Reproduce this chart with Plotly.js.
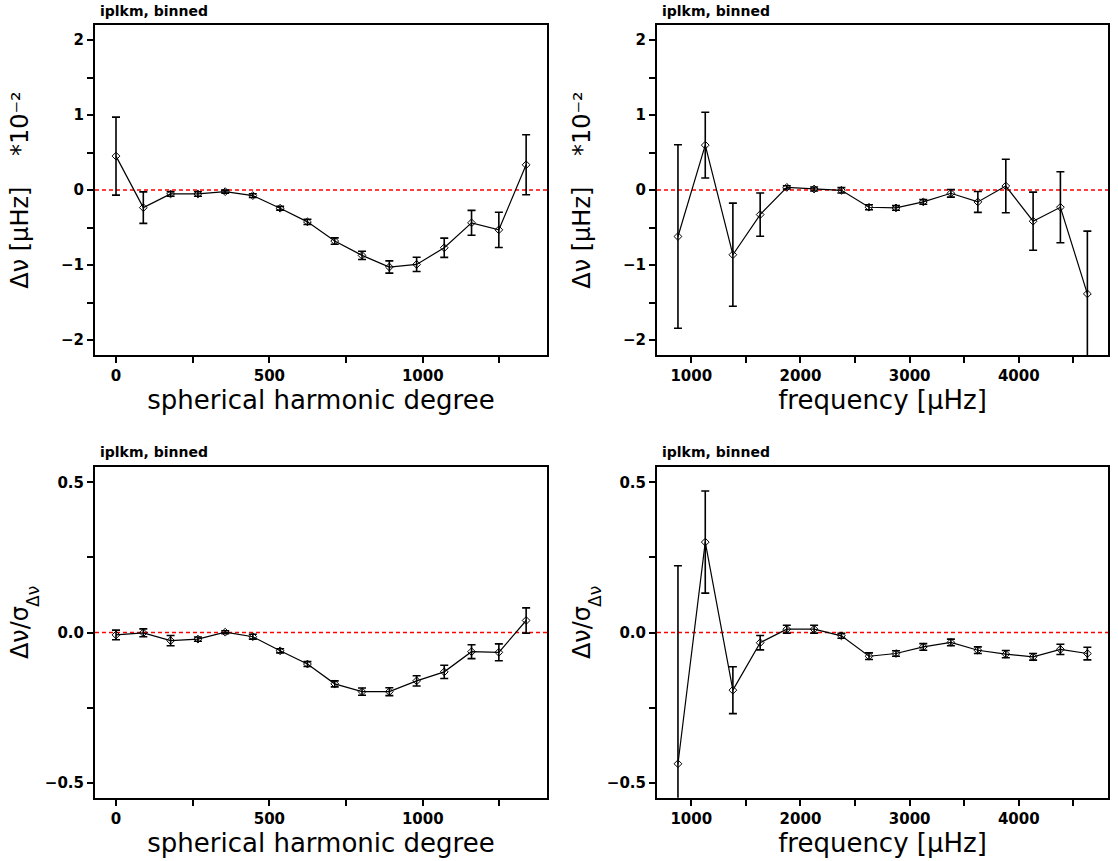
<!DOCTYPE html>
<html>
<head>
<meta charset="utf-8">
<script src="https://cdn.plot.ly/plotly-3.0.1.min.js"></script>
<style>html,body{margin:0;padding:0;background:#fff}#chart{width:1118px;height:861px}</style>
</head>
<body>
<div id="chart"></div>
<script>
// ---- data ----
const ell = [0, 89, 178, 267, 356, 446, 535, 624, 713, 802, 891, 980, 1070, 1159, 1248, 1337];
const dnuEll = [0.452, -0.235, -0.053, -0.053, -0.022, -0.075, -0.243, -0.425, -0.681, -0.872, -1.027, -0.992, -0.770, -0.438, -0.531, 0.336];
const errDnuEll = [0.52, 0.21, 0.03, 0.03, 0.02, 0.025, 0.025, 0.035, 0.042, 0.055, 0.082, 0.095, 0.128, 0.166, 0.235, 0.40];

const freq = [878, 1128, 1381, 1631, 1875, 2125, 2375, 2628, 2875, 3125, 3378, 3625, 3881, 4131, 4381, 4628];
const dnuFreq = [-0.62, 0.598, -0.863, -0.328, 0.035, 0.013, -0.004, -0.230, -0.239, -0.159, -0.044, -0.159, 0.053, -0.416, -0.230, -1.385];
const errDnuFreq = [1.224, 0.438, 0.688, 0.288, 0.022, 0.027, 0.035, 0.033, 0.031, 0.031, 0.051, 0.139, 0.356, 0.387, 0.474, 0.836];

const normEll = [-0.008, -0.001, -0.027, -0.022, 0.001, -0.014, -0.061, -0.105, -0.171, -0.197, -0.197, -0.161, -0.131, -0.064, -0.066, 0.040];
const errNormEll = [0.016, 0.013, 0.017, 0.007, 0.005, 0.008, 0.007, 0.008, 0.010, 0.012, 0.013, 0.017, 0.022, 0.023, 0.028, 0.042];

const normFreq = [-0.437, 0.301, -0.192, -0.034, 0.011, 0.011, -0.011, -0.079, -0.070, -0.048, -0.033, -0.059, -0.072, -0.081, -0.056, -0.070];
const errNormFreq = [0.659, 0.170, 0.078, 0.024, 0.013, 0.013, 0.008, 0.011, 0.009, 0.011, 0.011, 0.011, 0.012, 0.011, 0.017, 0.021];

const panelLabel = "iplkm, binned";
const xTitleEll = "spherical harmonic degree";
const xTitleFreq = "frequency [μHz]";
const yTitleDnu = "Δν [μHz]    *10⁻²";
const yTitleNorm = "Δν/σ";
const yTitleNormSub = "Δν";

// ---- layout geometry ----
const W = 1118, H = 861;
const px = (a, b) => [a / W, b / W];
const py = (top, bottom) => [1 - bottom / H, 1 - top / H];

const tickFont = {family: "DejaVu Sans", size: 15, color: "#000", weight: "bold"};
const titleFont = {family: "DejaVu Sans", size: 26, color: "#000"};

function trace(x, y, e, xa, ya) {
  return {
    x: x, y: y, xaxis: xa, yaxis: ya, type: "scatter", mode: "lines+markers",
    line: {color: "#000", width: 1.2},
    marker: {symbol: "diamond-open", size: 6, color: "#000", line: {width: 1, color: "#000"}},
    error_y: {type: "data", array: e, visible: true, color: "#000", thickness: 1.6, width: 4},
    showlegend: false, hoverinfo: "x+y"
  };
}

function xaxis(domain, range, dtick, minor, title, anchor) {
  return {
    domain: domain, range: range, anchor: anchor, dtick: dtick, tick0: 0,
    ticks: "outside", ticklen: 6, tickwidth: 2, tickcolor: "#000",
    minor: {dtick: minor, tick0: 0, ticks: "outside", ticklen: 6, tickwidth: 2, tickcolor: "#000"},
    showline: true, linecolor: "#000", linewidth: 2, mirror: true,
    showgrid: false, zeroline: false, tickfont: tickFont,
    title: {text: title, font: titleFont, standoff: 2}
  };
}

function yaxis(domain, range, dtick, minor, fmt, title, anchor, standoff) {
  return {
    domain: domain, range: range, anchor: anchor, dtick: dtick, tick0: 0, tickformat: fmt,
    ticks: "outside", ticklen: 6, tickwidth: 2, tickcolor: "#000",
    minor: {dtick: minor, tick0: 0, ticks: "outside", ticklen: 6, tickwidth: 2, tickcolor: "#000"},
    showline: true, linecolor: "#000", linewidth: 2, mirror: true,
    showgrid: false, zeroline: false, tickfont: tickFont,
    title: {text: title, font: {family: "DejaVu Sans", size: 24, color: "#000"}, standoff: standoff}
  };
}

const xL = px(95, 547), xR = px(657, 1108);
const yT = py(25, 355), yB = py(467.3, 797.7);

const data = [
  trace(ell, dnuEll, errDnuEll, "x", "y"),
  trace(freq, dnuFreq, errDnuFreq, "x2", "y2"),
  trace(ell, normEll, errNormEll, "x3", "y3"),
  trace(freq, normFreq, errNormFreq, "x4", "y4")
];

function zeroLine(xa, ya) {
  return {type: "line", xref: xa + " domain", yref: ya, x0: 0, x1: 1, y0: 0, y1: 0,
          line: {color: "#ff0000", width: 1.4, dash: "4px,3px"}, layer: "below"};
}

function header(xPix, yPix) {
  return {text: panelLabel, xref: "paper", yref: "paper", x: xPix / W, y: 1 - yPix / H,
          xanchor: "left", yanchor: "bottom", showarrow: false,
          font: {family: "DejaVu Sans", size: 14, color: "#000", weight: "bold"}};
}

// subscript of the normalised y-axis title (rotated like the title)
function subscript(xPix, yPix) {
  return {text: yTitleNormSub, xref: "paper", yref: "paper", x: xPix / W, y: 1 - yPix / H,
          xanchor: "center", yanchor: "middle", textangle: -90, showarrow: false,
          font: {family: "DejaVu Sans", size: 17, color: "#000"}};
}

const layout = {
  width: W, height: H,
  margin: {l: 0, r: 0, t: 0, b: 0},
  paper_bgcolor: "#fff", plot_bgcolor: "#fff",
  showlegend: false,
  xaxis: xaxis(xL, [-68.5, 1405], 500, 250, xTitleEll, "y"),
  yaxis: yaxis(yT, [-2.2, 2.2], 1, 0.5, "d", yTitleDnu, "x", 26),
  xaxis2: xaxis(xR, [686, 4817], 1000, 500, xTitleFreq, "y2"),
  yaxis2: yaxis(yT, [-2.2, 2.2], 1, 0.5, "d", yTitleDnu, "x2", 26),
  xaxis3: xaxis(xL, [-68.5, 1405], 500, 250, xTitleEll, "y3"),
  yaxis3: yaxis(yB, [-0.55, 0.55], 0.5, 0.25, ".1f", yTitleNorm, "x3", 9),
  xaxis4: xaxis(xR, [686, 4817], 1000, 500, xTitleFreq, "y4"),
  yaxis4: yaxis(yB, [-0.55, 0.55], 0.5, 0.25, ".1f", yTitleNorm, "x4", 9),
  shapes: [zeroLine("x", "y"), zeroLine("x2", "y2"), zeroLine("x3", "y3"), zeroLine("x4", "y4")],
  annotations: [header(98, 21), header(660, 21), header(98, 462), header(660, 462),
                subscript(33, 597), subscript(595, 597)]
};

Plotly.newPlot("chart", data, layout, {staticPlot: true, displayModeBar: false});
</script>
</body>
</html>
